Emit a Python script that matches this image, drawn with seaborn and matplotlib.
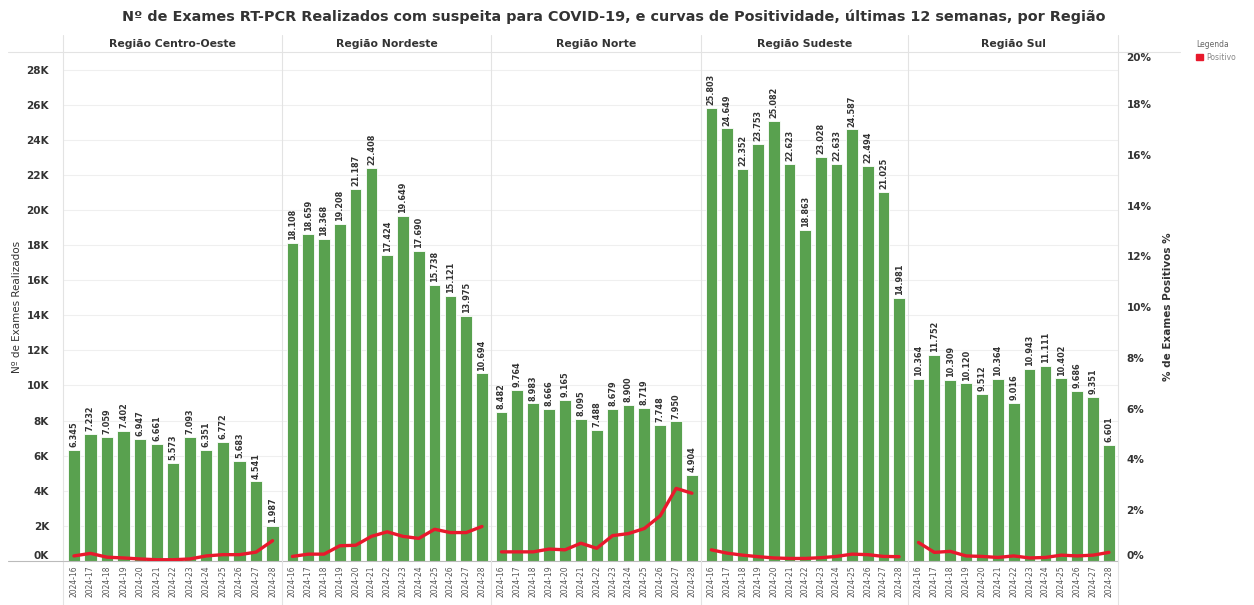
import numpy as np
import pandas as pd
import matplotlib
matplotlib.use("Agg")
import matplotlib.pyplot as plt
import seaborn as sns
from matplotlib.lines import Line2D
from matplotlib.patches import Patch

# dados
regioes = ["Região Centro-Oeste", "Região Nordeste", "Região Norte", "Região Sudeste", "Região Sul"]
semanas = ["2024-16", "2024-17", "2024-18", "2024-19", "2024-20", "2024-21", "2024-22",
           "2024-23", "2024-24", "2024-25", "2024-26", "2024-27", "2024-28"]

exames_co = [6345, 7232, 7059, 7402, 6947, 6661, 5573, 7093, 6351, 6772, 5683, 4541, 1987]
exames_ne = [18108, 18659, 18368, 19208, 21187, 22408, 17424, 19649, 17690, 15738, 15121, 13975, 10694]
exames_n = [8482, 9764, 8983, 8666, 9165, 8095, 7488, 8679, 8900, 8719, 7748, 7950, 4904]
exames_se = [25803, 24649, 22352, 23753, 25082, 22623, 18863, 23028, 22633, 24587, 22494, 21025, 14981]
exames_sul = [10364, 11752, 10309, 10120, 9512, 10364, 9016, 10943, 11111, 10402, 9686, 9351, 6601]

pos_co = [0.2, 0.3, 0.15, 0.12, 0.08, 0.05, 0.05, 0.08, 0.2, 0.25, 0.25, 0.35, 0.8]
pos_ne = [0.18, 0.27, 0.27, 0.6, 0.62, 0.97, 1.15, 0.97, 0.89, 1.25, 1.12, 1.12, 1.36]
pos_n = [0.36, 0.36, 0.36, 0.47, 0.44, 0.7, 0.5, 1.0, 1.08, 1.28, 1.78, 2.86, 2.67]
pos_se = [0.44, 0.31, 0.23, 0.17, 0.12, 0.1, 0.1, 0.13, 0.18, 0.27, 0.25, 0.18, 0.17]
pos_sul = [0.73, 0.34, 0.38, 0.2, 0.18, 0.14, 0.2, 0.12, 0.14, 0.23, 0.2, 0.23, 0.34]

exames = [exames_co, exames_ne, exames_n, exames_se, exames_sul]
positividade = [pos_co, pos_ne, pos_n, pos_se, pos_sul]

df = pd.concat([pd.DataFrame({"regiao": r, "semana": semanas, "exames": e, "positivo": p})
                for r, e, p in zip(regioes, exames, positividade)], ignore_index=True)

verde = "#59A14F"
vermelho = "#E8192C"
cinza_txt = "#333333"
linha = "#E3E3E3"

sns.set_style("white")
plt.rcParams["font.family"] = ["DejaVu Sans"]

W, H = 1254, 605
bordas = [63, 282, 491, 701, 908, 1118]  # limites dos painéis em px
larguras = np.diff(bordas)
fig, axes = plt.subplots(1, 5, figsize=(W / 100, H / 100), dpi=100, sharey=True,
                         gridspec_kw={"width_ratios": larguras})
fig.subplots_adjust(left=bordas[0] / W, right=bordas[-1] / W, bottom=(H - 561) / H, top=(H - 52) / H, wspace=0)

eixo_dir = None
for i, (ax, reg) in enumerate(zip(axes, regioes)):
    sub = df[df["regiao"] == reg]
    sns.barplot(data=sub, x="semana", y="exames", ax=ax, color=verde, width=0.74,
                saturation=1, edgecolor="white", linewidth=0.6)
    ax.bar_label(ax.containers[0], labels=[f"{v:,.0f}".replace(",", ".") for v in sub["exames"]],
                 rotation=90, padding=2, fontsize=5.9, fontweight="bold", color=cinza_txt)
    ax.set_ylim(0, 29000)
    ax.set_xlim(-0.66, 12.57)
    ax.yaxis.grid(True, color="#EFEFEF", lw=0.8)
    ax.set_axisbelow(True)
    ax.set_xlabel("")
    ax.set_ylabel("")
    ax.tick_params(axis="x", rotation=90, labelsize=5.5, labelcolor="#555555", length=0, pad=3)
    ax.tick_params(axis="y", length=0, labelsize=7.5, labelcolor=cinza_txt)
    for s in ["top", "right", "left"]:
        ax.spines[s].set_visible(False)
    ax.spines["bottom"].set_color("#BBBBBB")
    ax.text(0.5, 1.0 + 8 / 509, reg, transform=ax.transAxes, ha="center", va="center",
            fontsize=7.8, fontweight="bold", color=cinza_txt)

    ax2 = ax.twinx()
    sns.lineplot(data=sub, x="semana", y="positivo", ax=ax2, color=vermelho, lw=2.4, sort=False)
    ax2.set_ylim(0, 20.05)
    ax2.set_ylabel("")
    for s in ["top", "right", "left", "bottom"]:
        ax2.spines[s].set_visible(False)
    if i < 4:
        ax2.set_yticks([])
    else:
        eixo_dir = ax2
        ax2.set_yticks(np.arange(0, 21, 2))
        ax2.set_yticklabels([f"{v}%" for v in range(0, 21, 2)], fontweight="bold")
        ax2.tick_params(axis="y", length=0, labelsize=7.5, labelcolor=cinza_txt, pad=6)
        ax2.set_ylabel("% de Exames Positivos %", fontsize=7.5, fontweight="bold", color=cinza_txt,
                       rotation=90, labelpad=8)

axes[0].set_yticks(np.arange(0, 29000, 2000))
axes[0].set_yticklabels([f"{v}K" for v in range(0, 29, 2)], fontweight="bold")
axes[0].tick_params(axis="y", pad=10)
axes[0].set_ylabel("Nº de Exames Realizados", fontsize=7.5, color=cinza_txt)
axes[0].yaxis.set_label_coords(-41 / larguras[0], 0.5)

# rótulos das pontas como no Tableau
axes[0].get_yticklabels()[0].set_va("bottom")
eixo_dir.get_yticklabels()[0].set_va("bottom")
eixo_dir.get_yticklabels()[-1].set_va("top")

# separadores dos painéis
for xb in bordas:
    fig.add_artist(Line2D([xb / W, xb / W], [0, (H - 35) / H], color=linha, lw=0.8))
fig.add_artist(Line2D([8 / W, 1180 / W], [(H - 52) / H, (H - 52) / H], color=linha, lw=0.8))
fig.add_artist(Line2D([8 / W, 63 / W], [(H - 561) / H, (H - 561) / H], color="#BBBBBB", lw=0.8))

fig.text(614 / W, 1 - 17 / H,
         "Nº de Exames RT-PCR Realizados com suspeita para COVID-19, e curvas de Positividade, últimas 12 semanas, por Região",
         ha="center", va="center", fontsize=10.4, fontweight="bold", color=cinza_txt)

fig.legend(handles=[Patch(color=vermelho, label="Positivo")], loc="upper left",
           bbox_to_anchor=(1192 / W, 1 - 36 / H), frameon=False, title="Legenda",
           fontsize=5.5, title_fontsize=5.5, handlelength=1.0, handleheight=1.0,
           handletextpad=0.4, borderpad=0, alignment="left", labelcolor="#888888")
fig.legends[0].get_title().set_color("#666666")

fig.savefig("out.png", dpi=100)
